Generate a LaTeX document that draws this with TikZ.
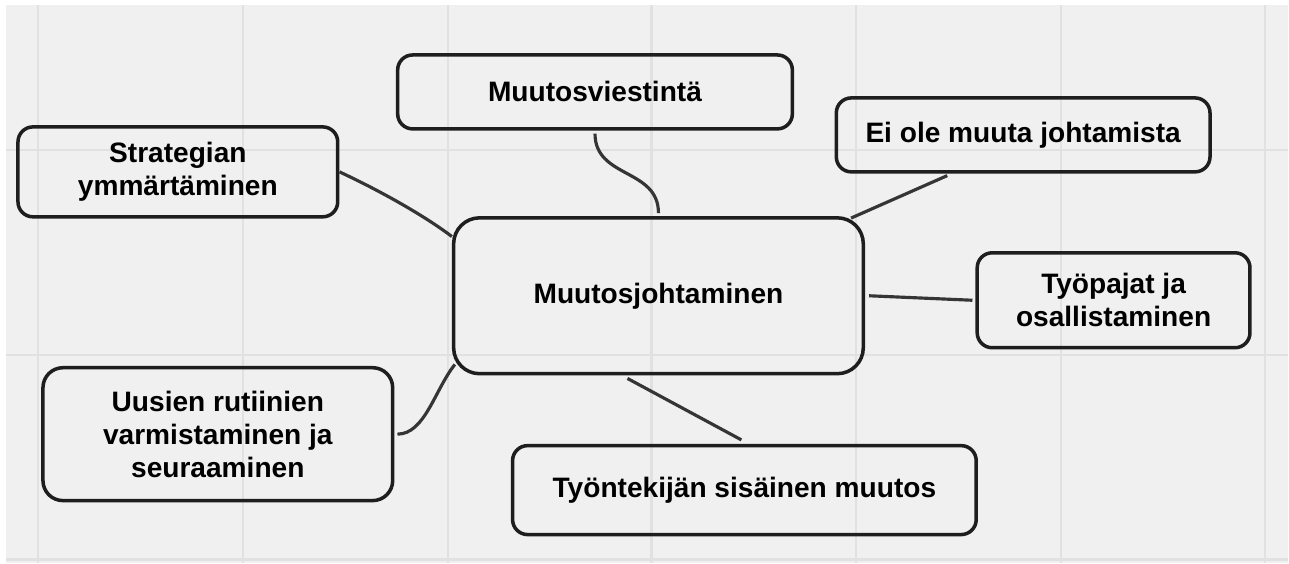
\documentclass[tikz,border=0pt]{standalone}
\usepackage{fontspec}
\setmainfont{Liberation Sans}
\definecolor{pohja}{HTML}{F0F0F0}
\definecolor{ruudukko}{HTML}{E1E1E1}
\definecolor{viiva}{HTML}{1E1E1E}
\tikzset{
	aihe/.style={draw=viiva, line width=2pt, rounded corners=0.3cm, align=center,
		font=\fontsize{16}{18.8}\selectfont\bfseries, inner sep=0pt},
	yhteys/.style={draw=viiva!90!white, line width=1.8pt},
}

\begin{document}
\begin{tikzpicture}
		\fill[white] (0,0) rectangle (25.78,-11.26);
		\fill[pohja] (0.12,-0.1) rectangle (25.78,-11.26);
		\foreach \x in {0.76, 4.86, 8.96, 13.04, 17.14, 21.24, 25.32}
			\draw[ruudukko, line width=1.2pt] (\x,-0.1) -- (\x,-11.26);
		\foreach \y in {-3.0, -7.1, -11.2}
			\draw[ruudukko, line width=1.2pt] (0.12,\y) -- (25.78,\y);

		\node[aihe, minimum width=6.4cm, minimum height=1.8cm] (strategia) at (3.56,-3.44) {Strategian\\ymmärtäminen};
		\node[aihe, minimum width=7.9cm, minimum height=1.48cm] (viestinta) at (11.91,-1.84) {Muutosviestintä};
		\node[aihe, minimum width=8.2cm, minimum height=3.12cm, rounded corners=0.52cm] (johtaminen) at (13.18,-5.92) {\raisebox{-0.08cm}{Muutosjohtaminen}};
		\node[aihe, minimum width=7.48cm, minimum height=1.48cm] (eiole) at (20.48,-2.7) {Ei ole muuta johtamista};
		\node[aihe, minimum width=5.46cm, minimum height=1.9cm] (tyopajat) at (22.29,-6.01) {Työpajat ja\\osallistaminen};
		\node[aihe, minimum width=7.0cm, minimum height=2.66cm, rounded corners=0.4cm] (rutiinit) at (4.36,-8.69) {Uusien rutiinien\\varmistaminen ja\\seuraaminen};
		\node[aihe, minimum width=9.28cm, minimum height=1.78cm] (muutos) at (14.9,-9.81) {Työntekijän sisäinen muutos};

		\draw[yhteys] (strategia.east) .. controls +(0.9,-0.42) and +(-0.5,0.38) .. (johtaminen.164);
		\draw[yhteys] ([yshift=-0.06cm]viestinta.south) .. controls +(0,-0.9) and +(0,0.9) .. ([yshift=0.06cm]johtaminen.north);
		\draw[yhteys] ([xshift=-1.52cm, yshift=-0.04cm]eiole.south) -- ([shift={(-0.28,-0.04)}]johtaminen.north east);
		\draw[yhteys] ([xshift=0.08cm]johtaminen.east) -- ([xshift=-0.06cm]tyopajat.west);
		\draw[yhteys] ([xshift=0.06cm]rutiinit.east) .. controls +(0.55,0) and +(-0.4,-0.5) .. ([shift={(0.06,0.22)}]johtaminen.south west);
		\draw[yhteys] ([shift={(-0.62,-0.06)}]johtaminen.south) -- ([shift={(-0.06,0.08)}]muutos.north);
	\end{tikzpicture}
\end{document}
